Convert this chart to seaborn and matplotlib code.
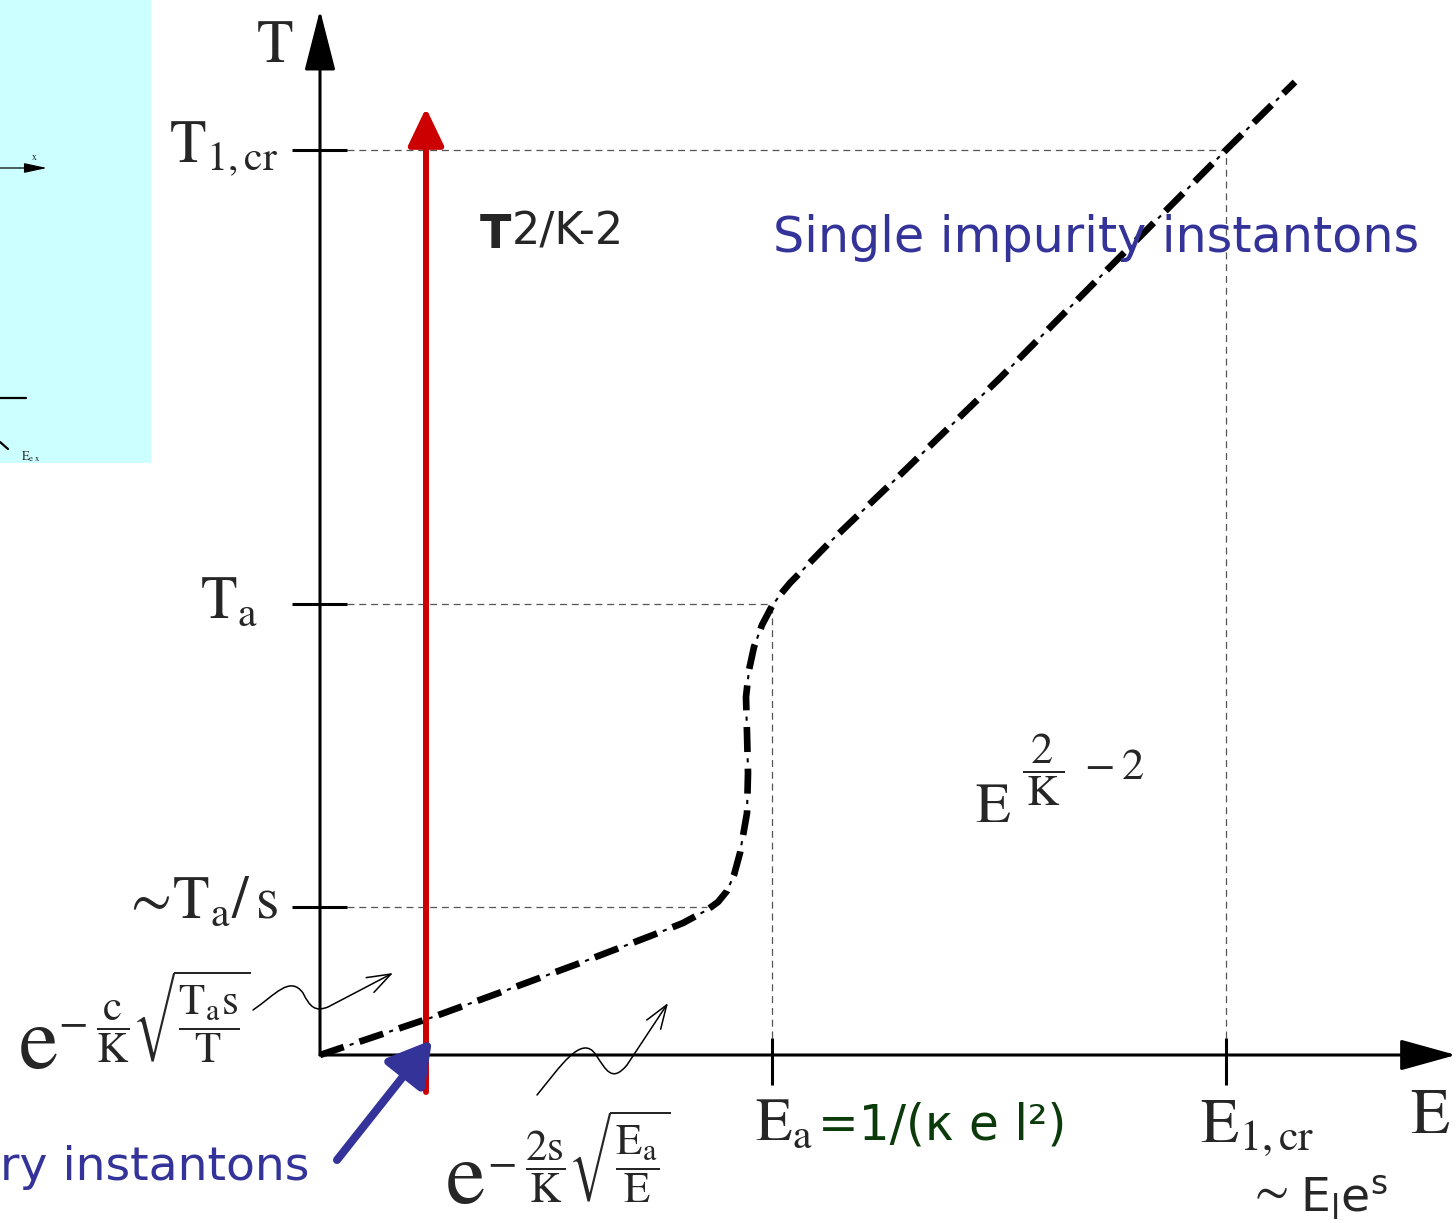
import matplotlib
matplotlib.use("Agg")
import matplotlib.pyplot as plt
import seaborn as sns
import pandas as pd
from matplotlib.patches import FancyArrowPatch, Rectangle
from matplotlib.path import Path

# ---- crossover line between the two regimes (E, T) ----
curve_E = [0.00, 1.13, 1.87, 2.60, 3.33, 3.63, 3.87, 3.98, 4.07, 4.14, 4.20, 4.27, 4.28, 4.27,
           4.26, 4.29, 4.34, 4.42, 4.52, 4.60, 4.70, 5.10, 5.80, 6.80, 7.80, 9.06, 9.75]
curve_T = [0.00, 0.38, 0.65, 0.92, 1.20, 1.32, 1.45, 1.53, 1.64, 1.80, 2.02, 2.42, 2.82, 3.22,
           3.58, 3.85, 4.08, 4.30, 4.49, 4.60, 4.72, 5.13, 5.80, 6.77, 7.78, 9.05, 9.73]

# ---- characteristic scales ----
T_ticks = [1.48, 4.51, 9.05]
T_labels = [r'$\sim\!\mathrm{T}_{\mathrm{a}}/\,\mathrm{s}$',
            r'$\mathrm{T}_{\mathrm{a}}$',
            r'$\mathrm{T}_{1,\mathrm{cr}}$']
T_guide_end = [3.87, 4.52, 9.06]      # E where each T guide meets the curve
E_ticks = [4.52, 9.06]
E_guide_top = [4.51, 9.05]            # T where each E guide meets the curve
red_line_E = 1.06                     # constant-E cut (red arrow)

sns.set_style("white")
plt.rcParams['mathtext.fontset'] = 'stix'
plt.rcParams['font.family'] = ['DejaVu Sans']
plt.rcParams['lines.scale_dashes'] = False

fig = plt.figure(figsize=(14.56, 12.23), dpi=100)
ax = fig.add_axes([0, 0, 1, 1])
ax.set_xlim(-3.20, 11.36)
ax.set_ylim(-1.68, 10.55)
ax.axis('off')

BLUE = '#333399'
GREEN = '#0b3b0b'
RED = '#cc0000'

# ---- inset panel on the left ----
ax.add_patch(Rectangle((-3.20, 5.92), 1.51, 4.63, color='#ccffff', lw=0, zorder=0))
ax.add_patch(FancyArrowPatch((-3.20, 8.87), (-2.73, 8.87), arrowstyle='-|>,head_length=14,head_width=3',
                             mutation_scale=1, lw=0.9, color='black', shrinkA=0, shrinkB=0))
ax.text(-2.89, 8.95, r'$\mathrm{x}$', fontsize=7, ha='left', va='baseline')
ax.plot([-3.20, -2.94], [6.57, 6.57], color='black', lw=1.6)
ax.plot([-3.20, -3.12], [6.13, 6.06], color='black', lw=1.6)
ax.text(-2.99, 5.95, r'$\mathrm{E}_{\mathrm{e\ x}}$', fontsize=9, ha='left', va='baseline')

# ---- axes with arrows ----
ax.add_patch(FancyArrowPatch((0, 0), (0, 10.45), arrowstyle='-|>,head_length=38,head_width=9.7',
                             mutation_scale=1, lw=2.2, color='black', shrinkA=0, shrinkB=0, zorder=3))
ax.add_patch(FancyArrowPatch((0, 0), (11.36, 0), arrowstyle='-|>,head_length=35,head_width=9.7',
                             mutation_scale=1, lw=2.2, color='black', shrinkA=0, shrinkB=0, zorder=3))
ax.text(-0.45, 10.10, r'$\mathrm{T}$', fontsize=43, ha='center', va='center')
ax.text(10.90, -0.78, r'$\mathrm{E}$', fontsize=46, ha='left', va='baseline')

# ticks
ax.hlines(T_ticks, -0.28, 0.27, color='black', lw=2.2, zorder=3)
ax.vlines(E_ticks, -0.30, 0.17, color='black', lw=2.2, zorder=3)

# guides
ax.hlines(T_ticks, 0.27, T_guide_end, color='#555555', lw=0.9, linestyles=(0, (5, 3.5)), zorder=1)
ax.vlines(E_ticks, 0.17, E_guide_top, color='#555555', lw=0.9, linestyles=(0, (5, 3.5)), zorder=1)

# tick labels on T
label_x = [-0.42, -0.62, -0.42]
label_base = [1.37, 4.37, 8.93]
for lab, lx, ly in zip(T_labels, label_x, label_base):
    ax.text(lx, ly, lab, fontsize=43, ha='right', va='baseline')

# tick labels on E
ax.text(4.35, -0.85, r'$\mathrm{E}_{\mathrm{a}}$', fontsize=43, ha='left', va='baseline')
ax.text(4.98, -0.85, '=1/(κ e l²)', fontsize=35, color=GREEN, ha='left', va='baseline')
ax.text(8.80, -0.87, r'$\mathrm{E}_{1,\mathrm{cr}}$', fontsize=45, ha='left', va='baseline')
ax.text(9.27, -1.35, r'$\sim$', fontsize=36, ha='left', va='center')
ax.text(9.80, -1.57, r'$\mathregular{E_l e^s}$', fontsize=34, ha='left', va='baseline')

# ---- crossover curve: thick dashes with thin dots in between ----
df = pd.DataFrame({'E': curve_E, 'T': curve_T})
sns.lineplot(data=df, x='E', y='T', sort=False, estimator=None, color='black', lw=4.8, ax=ax)
thick = ax.lines[-1]
thick.set_linestyle((0, (18, 12)))
thick.set_dash_capstyle('butt')
thick.set_solid_joinstyle('round')
sns.lineplot(data=df, x='E', y='T', sort=False, estimator=None, color='black', lw=1.5, ax=ax)
thin = ax.lines[-1]
thin.set_linestyle((7.5, (3, 27)))
thin.set_dash_capstyle('butt')
ax.set_xlabel('')
ax.set_ylabel('')

# ---- red constant-E arrow ----
ax.add_patch(FancyArrowPatch((red_line_E, -0.37), (red_line_E, 9.47),
                             arrowstyle='-|>,head_length=23,head_width=11',
                             mutation_scale=1, lw=4.3, color=RED, shrinkA=0, shrinkB=0, zorder=4))

# ---- blue pointer arrow ----
ax.add_patch(FancyArrowPatch((0.17, -1.05), (1.12, 0.15),
                             arrowstyle='-|>,head_length=26,head_width=15',
                             mutation_scale=1, lw=5.8, color=BLUE, shrinkA=0, shrinkB=0, zorder=5))

# ---- region labels ----
ax.text(4.53, 8.03, 'Single impurity instantons', fontsize=35.5, color=BLUE, ha='left', va='baseline')
ax.text(-3.20, -1.25, 'ry instantons', fontsize=34, color=BLUE, ha='left', va='baseline')
ax.text(1.60, 8.07, 'T', fontsize=33, fontweight='bold', ha='left', va='baseline')
ax.text(1.92, 8.10, '2/K-2', fontsize=32, ha='left', va='baseline')
ax.text(6.55, 2.33, r'$\mathrm{E}$', fontsize=41, ha='left', va='baseline')
ax.text(7.02, 2.85, r'$\dfrac{\;2\;}{\mathrm{K}}\ -2$', fontsize=32, ha='left', va='center')

# ---- asymptotic forms ----
ax.text(-3.02, -0.13, r'$\mathrm{e}$', fontsize=64, ha='left', va='baseline')
ax.text(-2.62, 0.38, r'$-\;\dfrac{\mathrm{c}}{\mathrm{K}}\sqrt{\dfrac{\mathrm{T}_{\mathrm{a}}\mathrm{s}}{\mathrm{T}}}$',
        fontsize=31, ha='left', va='center')
ax.text(1.25, -1.48, r'$\mathrm{e}$', fontsize=64, ha='left', va='baseline')
ax.text(1.67, -1.02, r'$-\;\dfrac{2\mathrm{s}}{\mathrm{K}}\sqrt{\dfrac{\mathrm{E}_{\mathrm{a}}}{\mathrm{E}}}$',
        fontsize=31, ha='left', va='center')

# wavy pointers from the formulas into their regions
wave1 = Path([(-0.67, 0.45), (-0.45, 0.60), (-0.30, 0.80), (-0.17, 0.62),
              (-0.10, 0.48), (-0.05, 0.43), (0.08, 0.48), (0.73, 0.82)],
             [Path.MOVETO, Path.CURVE4, Path.CURVE4, Path.CURVE4,
              Path.CURVE4, Path.CURVE4, Path.CURVE4, Path.LINETO])
wave2 = Path([(2.17, -0.40), (2.40, -0.12), (2.62, 0.22), (2.76, 0.00),
              (2.86, -0.15), (2.92, -0.28), (3.07, -0.10), (3.48, 0.52)],
             [Path.MOVETO, Path.CURVE4, Path.CURVE4, Path.CURVE4,
              Path.CURVE4, Path.CURVE4, Path.CURVE4, Path.LINETO])
for w in (wave1, wave2):
    ax.add_patch(FancyArrowPatch(path=w, arrowstyle='->,head_length=17,head_width=6',
                                 mutation_scale=1, lw=1.1, color='black', zorder=3))

fig.savefig('out.png', dpi=100)
